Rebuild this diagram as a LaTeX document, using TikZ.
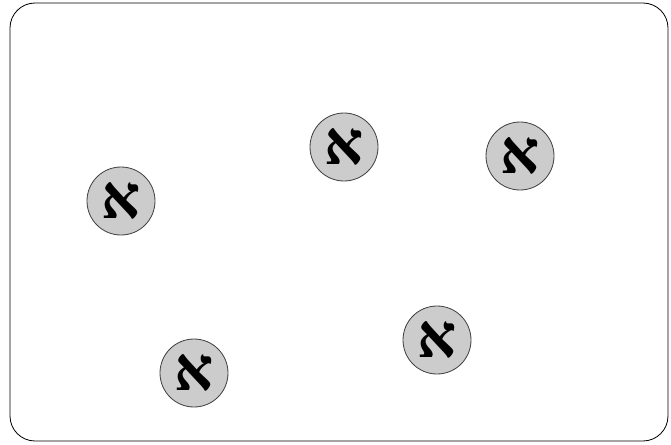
\documentclass[tikz,border=0pt]{standalone}
\usepackage{fontspec}
\newfontfamily\hebrewfont[Script=Hebrew]{Liberation Serif}
\usetikzlibrary{positioning}
\begin{document}
\begin{tikzpicture}[x=0.03cm, y=-0.03cm]
		
		%Riquadro e nodi
		\useasboundingbox (0,0) rectangle (671,444);
		\draw[rounded corners=0.75cm, line width=0.7pt] (10,3) rectangle (668,441);
		
		\tikzset{aleph/.style={circle, draw=black!75, fill=black!20, line width=0.7pt, minimum size=2.04cm, inner sep=0pt, text centered, font=\hebrewfont\bfseries\fontsize{52}{54}\selectfont}}
		
		\node (alephA) at (121,201) [aleph] {א};
		
		\node (alephB) at (344,147) [aleph] {א};
		
		\node (alephC) at (520,156) [aleph] {א};
		
		\node (alephD) at (194,373) [aleph] {א};
		
		\node (alephE) at (437,340) [aleph] {א};
		
		\end{tikzpicture}
\end{document}
